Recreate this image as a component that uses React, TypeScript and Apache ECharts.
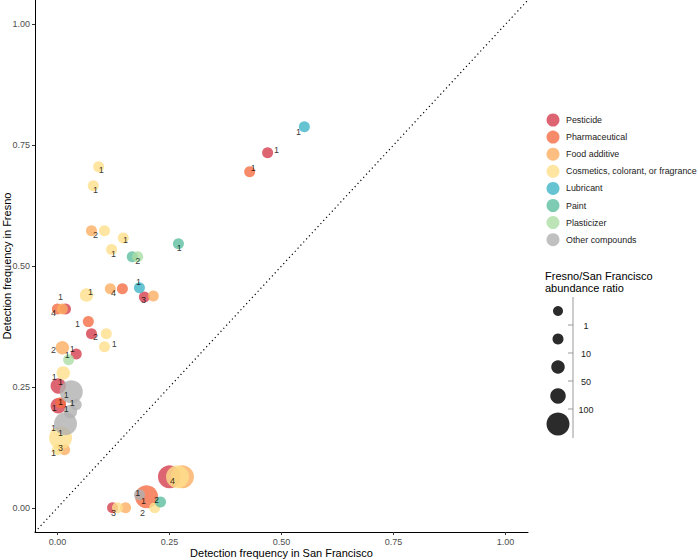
import React, { useEffect, useRef } from "react";
import * as echarts from "echarts";

const categories = [
  "Pesticide",
  "Pharmaceutical",
  "Food additive",
  "Cosmetics, colorant, or fragrance",
  "Lubricant",
  "Paint",
  "Plasticizer",
  "Other compounds",
];
const colors = ["#D53E4F", "#F46D43", "#FDAE61", "#FEE08B", "#40B5C7", "#5DBE9F", "#ABDDA4", "#B0B0B0"];

// [detection freq San Francisco, detection freq Fresno, Fresno/SF abundance ratio]
const pesticide = [
  [0.469, 0.734, 5], [0.194, 0.436, 5], [0.018, 0.411, 5], [0.076, 0.36, 5], [0.042, 0.318, 5],
  [0.002, 0.252, 70], [0.002, 0.211, 70], [0.25, 0.064, 150], [0.123, 0.0, 5],
];
const pharmaceutical = [
  [0.429, 0.695, 5], [0.145, 0.453, 5], [0.0, 0.411, 5], [0.069, 0.385, 5], [0.007, 0.217, 5], [0.199, 0.023, 150],
];
const foodAdditive = [
  [0.076, 0.573, 5], [0.118, 0.453, 5], [0.214, 0.438, 5], [0.011, 0.411, 5], [0.011, 0.331, 20],
  [0.016, 0.12, 5], [0.279, 0.064, 150], [0.152, 0.0, 5],
];
const cosmetics = [
  [0.092, 0.705, 5], [0.08, 0.666, 5], [0.105, 0.573, 5], [0.147, 0.558, 5], [0.121, 0.534, 5],
  [0.065, 0.44, 20], [0.109, 0.36, 5], [0.105, 0.333, 5], [0.013, 0.279, 20], [0.007, 0.145, 150],
  [0.0, 0.12, 5], [0.268, 0.064, 150], [0.217, 0.0, 5], [0.134, 0.0, 5],
];
const lubricant = [[0.551, 0.788, 5], [0.183, 0.455, 5]];
const paint = [[0.27, 0.546, 5], [0.167, 0.519, 5], [0.23, 0.012, 5]];
const plasticizer = [[0.179, 0.519, 5], [0.025, 0.306, 5]];
const otherCompounds = [
  [0.031, 0.24, 150], [0.042, 0.213, 5], [0.029, 0.199, 20], [0.018, 0.174, 150], [0.183, 0.027, 5],
];
const seriesData = [pesticide, pharmaceutical, foodAdditive, cosmetics, lubricant, paint, plasticizer, otherCompounds];

// count labels placed (repelled) in data coordinates
const countLabels: [number, number, string][] = [
  [0.538, 0.778, "1"], [0.489, 0.74, "1"], [0.437, 0.703, "1"], [0.098, 0.698, "1"], [0.085, 0.658, "1"],
  [0.085, 0.565, "2"], [0.152, 0.553, "1"], [0.125, 0.525, "1"], [0.272, 0.538, "1"], [0.179, 0.511, "2"],
  [0.181, 0.467, "1"], [0.125, 0.445, "4"], [0.192, 0.43, "3"], [0.074, 0.447, "1"], [0.007, 0.436, "1"],
  [-0.009, 0.403, "4"], [0.045, 0.38, "1"], [0.085, 0.354, "2"], [0.127, 0.339, "1"], [-0.009, 0.327, "2"],
  [0.033, 0.329, "1"], [0.022, 0.316, "1"], [-0.007, 0.271, "1"], [0.007, 0.261, "1"], [0.02, 0.234, "1"],
  [0.007, 0.219, "1"], [-0.007, 0.207, "1"], [0.02, 0.205, "1"], [0.033, 0.217, "1"], [-0.009, 0.165, "1"],
  [0.007, 0.155, "1"], [0.007, 0.124, "3"], [-0.009, 0.114, "1"], [0.257, 0.056, "4"], [0.179, 0.031, "1"],
  [0.192, 0.014, "1"], [0.221, 0.017, "2"], [0.19, -0.01, "2"], [0.125, -0.01, "3"],
];

const diagonal = [[-0.05, -0.05], [1.05, 1.05]];
const axisTicks = [0, 0.25, 0.5, 0.75, 1];
const ratioBreaks = [1, 10, 50, 100];
const binDiameters = [10, 11, 13.5, 15.5, 23];

const FONT = "Liberation Sans, Arial, Helvetica, sans-serif";

function binOf(r: number) {
  let i = 0;
  while (i < ratioBreaks.length && r >= ratioBreaks[i]) i++;
  return i;
}

export default function App() {
  const ref = useRef<HTMLDivElement>(null);
  useEffect(() => {
    if (!ref.current) return;
    document.body.style.margin = "0";
    const chart = echarts.init(ref.current, undefined, { renderer: "svg" });

    const legendX = 558;
    const circleYs = [311, 339, 367, 396, 424];
    const tickYs = [325, 353, 381, 409];
    const sizeGraphics: any[] = [
      {
        type: "text",
        left: 545,
        top: 270,
        style: { text: "Fresno/San Francisco\nabundance ratio", fontSize: 11, lineHeight: 12, fill: "#000", fontFamily: FONT },
      },
      { type: "line", shape: { x1: 573, y1: 297, x2: 573, y2: 438 }, style: { stroke: "#999", lineWidth: 1 } },
    ];
    binDiameters.forEach((d, i) => {
      sizeGraphics.push({
        type: "circle",
        shape: { cx: legendX, cy: circleYs[i], r: d / 2 },
        style: { fill: "#2b2b2b" },
      });
    });
    ratioBreaks.forEach((b, i) => {
      sizeGraphics.push({ type: "line", shape: { x1: 568, y1: tickYs[i], x2: 573, y2: tickYs[i] }, style: { stroke: "#999", lineWidth: 1 } });
      sizeGraphics.push({
        type: "text",
        x: 586,
        y: tickYs[i] + 1,
        style: { text: String(b), fontSize: 9, fill: "#222", align: "center", verticalAlign: "middle", fontFamily: FONT },
      });
    });

    const option: any = {
      animation: false,
      backgroundColor: "#fff",
      textStyle: { fontFamily: FONT },
      grid: { left: 35, right: 170, top: 0, bottom: 28, containLabel: false, outerBoundsMode: "none" },
      xAxis: {
        type: "value",
        min: -0.05,
        max: 1.05,
        splitLine: { show: false },
        axisLine: { show: true, onZero: false, lineStyle: { color: "#000", width: 1 } },
        axisTick: { show: true, customValues: axisTicks, length: 3, lineStyle: { color: "#333" } },
        axisLabel: {
          customValues: axisTicks,
          formatter: (v: number) => v.toFixed(2),
          color: "#4d4d4d",
          fontSize: 9,
          margin: 5,
        },
        name: "Detection frequency in San Francisco",
        nameLocation: "middle",
        nameGap: 15,
        nameMoveOverlap: false,
        nameTextStyle: { fontSize: 11, color: "#000" },
      },
      yAxis: {
        type: "value",
        min: -0.05,
        max: 1.05,
        splitLine: { show: false },
        axisLine: { show: true, onZero: false, lineStyle: { color: "#000", width: 1 } },
        axisTick: { show: true, customValues: axisTicks, length: 3, lineStyle: { color: "#333" } },
        axisLabel: {
          customValues: axisTicks,
          formatter: (v: number) => v.toFixed(2),
          color: "#4d4d4d",
          fontSize: 9,
          margin: 5,
        },
        name: "Detection frequency in Fresno",
        nameLocation: "middle",
        nameGap: 23,
        nameRotate: 90,
        nameMoveOverlap: false,
        nameTextStyle: { fontSize: 11, color: "#000" },
      },
      legend: {
        data: categories,
        orient: "vertical",
        left: 546.5,
        top: 113.5,
        padding: 0,
        icon: "circle",
        itemWidth: 13,
        itemHeight: 13,
        itemGap: 4.1,
        textStyle: { fontSize: 8.9, color: "#222", padding: [0, 0, 0, 1.5] },
        selectedMode: false,
      },
      graphic: sizeGraphics,
      series: [
        {
          type: "line",
          data: diagonal,
          symbol: "none",
          silent: true,
          z: 1,
          lineStyle: { color: "#000", width: 1.2, type: [1.2, 3] },
        },
        ...categories.map((c, i) => ({
          name: c,
          type: "scatter",
          data: seriesData[i],
          z: 2,
          symbolSize: (v: number[]) => binDiameters[binOf(v[2])],
          itemStyle: { color: colors[i], opacity: 0.8 },
        })),
        {
          name: "counts",
          type: "scatter",
          data: countLabels,
          symbolSize: 0.1,
          silent: true,
          z: 5,
          itemStyle: { color: "transparent" },
          label: {
            show: true,
            position: "inside",
            formatter: (p: any) => p.data[2],
            fontSize: 9,
            color: "#000",
          },
        },
      ],
    };
    chart.setOption(option);
    return () => chart.dispose();
  }, []);
  return <div ref={ref} style={{ width: 698, height: 560, position: "absolute", left: 0, top: 0 }} />;
}
